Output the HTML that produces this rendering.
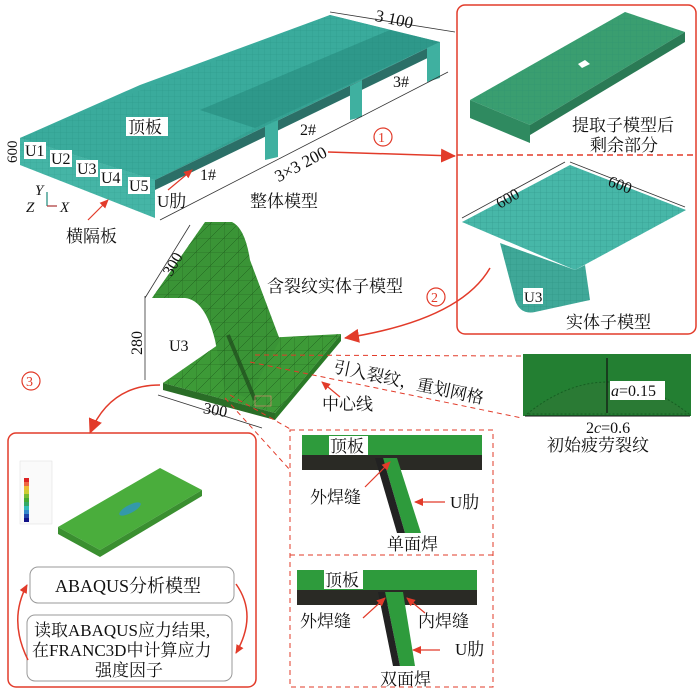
<!DOCTYPE html>
<html><head><meta charset="utf-8"><style>
html,body{margin:0;padding:0;background:#fff;}
svg{display:block;}
text{font-family:"Liberation Serif","Noto Serif CJK SC",serif;fill:#111;}
</style></head><body>
<svg width="700" height="691" viewBox="0 0 700 691" xmlns="http://www.w3.org/2000/svg">
<defs>
<marker id="ar" markerWidth="10" markerHeight="10" refX="8" refY="5" orient="auto" markerUnits="userSpaceOnUse"><path d="M0,1 L9,5 L0,9 z" fill="#e23b2a"/></marker>
<marker id="ar2" markerWidth="16" markerHeight="14" refX="14" refY="7" orient="auto" markerUnits="userSpaceOnUse"><path d="M0,0 L15,7 L0,14 z" fill="#e23b2a"/></marker>
<pattern id="mesh" width="6" height="6" patternUnits="userSpaceOnUse"><path d="M0,0 L6,0 M0,0 L0,6" stroke="#1e7f73" stroke-width="0.5"/></pattern>
<pattern id="gm" width="14" height="14" patternUnits="userSpaceOnUse"><path d="M0,0 L14,0 L0,14 M0,0 L0,14" stroke="#1f5e1c" stroke-width="0.5" fill="none"/></pattern>
</defs>

<!-- Main deck -->
<polygon points="20,138 155,180 155,218 20,165" fill="#45b5a6"/>
<polygon points="20,138 330,15 440,42 155,180" fill="#35a394"/>
<polygon points="140,85 330,15 390,30 200,110 255,128 155,180 20,138" fill="#3aab9c"/>
<polygon points="200,110 390,30 440,42 255,128" fill="#2d9587" opacity="0.8"/>
<polygon points="20,138 330,15 440,42 155,180" fill="url(#mesh)" opacity="0.5"/>
<polygon points="155,180 440,42 440,52 155,190" fill="#2b6f67"/>
<polygon points="265,126 278,120 278,157 265,160" fill="#3fb0a0"/>
<polygon points="350,86 362,80 362,117 350,120" fill="#3fb0a0"/>
<polygon points="427,48 440,42 440,78 427,82" fill="#3fb0a0"/>
<polygon points="20,138 155,180 155,218 20,165" fill="url(#mesh)" opacity="0.4"/>
<line x1="330" y1="12" x2="455" y2="32" stroke="#333" stroke-width="0.8"/>
<text x="375" y="25" font-size="17" transform="rotate(12 395 20)">3 100</text>
<line x1="160" y1="220" x2="448" y2="72" stroke="#333" stroke-width="0.8"/>
<text x="270" y="172" font-size="17" transform="rotate(-28 295 160)">3×3 200</text>
<text x="200" y="180" font-size="16">1#</text>
<text x="300" y="135" font-size="16">2#</text>
<text x="393" y="87" font-size="16">3#</text>
<text x="17" y="163" font-size="15" transform="rotate(-90 17 163)">600</text>
<g font-size="16">
<rect x="24" y="142" width="22" height="17" fill="#fff"/><text x="25" y="156">U1</text>
<rect x="50" y="150" width="22" height="17" fill="#fff"/><text x="51" y="164">U2</text>
<rect x="76" y="160" width="22" height="17" fill="#fff"/><text x="77" y="174">U3</text>
<rect x="100" y="169" width="22" height="17" fill="#fff"/><text x="101" y="183">U4</text>
<rect x="128" y="177" width="22" height="17" fill="#fff"/><text x="129" y="191">U5</text>
<rect x="126" y="117" width="42" height="19" fill="#fff"/><text x="128" y="133" font-size="17">顶板</text>
<text x="157" y="207" font-size="17">U肋</text>
<text x="250" y="207" font-size="17">整体模型</text>
<text x="66" y="242" font-size="17">横隔板</text>
<text x="35" y="195" font-style="italic" font-size="15">Y</text>
<text x="26" y="212" font-style="italic" font-size="15">Z</text>
<text x="60" y="212" font-style="italic" font-size="15">X</text>
</g>
<line x1="47" y1="206" x2="47" y2="192" stroke="#1a8a7c" stroke-width="1.2"/>
<line x1="47" y1="206" x2="57" y2="206" stroke="#a33" stroke-width="1.2"/>
<line x1="88" y1="220" x2="108" y2="200" stroke="#e23b2a" stroke-width="1.2" marker-end="url(#ar)"/>
<line x1="168" y1="190" x2="192" y2="170" stroke="#e23b2a" stroke-width="1.2" marker-end="url(#ar)"/>

<line x1="328" y1="152" x2="455" y2="156" stroke="#e23b2a" stroke-width="1.5" marker-end="url(#ar2)"/>
<circle cx="383" cy="137" r="9" fill="none" stroke="#e23b2a" stroke-width="1.2"/>
<text x="378" y="142" font-size="14" style="fill:#e23b2a">1</text>

<!-- top right box -->
<rect x="457" y="5" width="239" height="329" rx="8" fill="none" stroke="#e23b2a" stroke-width="1.5"/>
<line x1="457" y1="155" x2="696" y2="155" stroke="#e23b2a" stroke-width="1.5" stroke-dasharray="6,4"/>
<polygon points="470,100 625,12 685,32 530,125" fill="#3a9e70"/>
<polygon points="470,100 530,125 530,143 470,118" fill="#2f8a60"/>
<polygon points="530,125 685,32 685,42 530,135" fill="#2a7a55"/>
<polygon points="470,100 625,12 685,32 530,125" fill="url(#mesh)" opacity="0.4"/>
<polygon points="578,64 585,60 590,64 582,68" fill="#fff"/>
<text x="572" y="131" font-size="17">提取子模型后</text>
<text x="590" y="151" font-size="17">剩余部分</text>
<path d="M500,243 L515,300 Q520,315 535,312 L590,300 L585,265 L575,270 z" fill="#3fa898"/>
<path d="M500,243 L515,300 Q520,315 535,312 L590,300 L585,265 L575,270 z" fill="url(#mesh)" opacity="0.6"/>
<polygon points="462,222 570,165 686,210 575,270" fill="#47b7a8"/>
<polygon points="462,222 570,165 686,210 575,270" fill="url(#mesh)" opacity="0.6"/>
<line x1="462" y1="218" x2="565" y2="162" stroke="#333" stroke-width="0.8"/>
<line x1="570" y1="162" x2="685" y2="207" stroke="#333" stroke-width="0.8"/>
<text x="495" y="205" font-size="16" transform="rotate(-30 505 198)">600</text>
<text x="608" y="190" font-size="16" transform="rotate(20 620 185)">600</text>
<rect x="523" y="288" width="20" height="16" fill="#fff"/><text x="524" y="302" font-size="15">U3</text>
<text x="566" y="328" font-size="17">实体子模型</text>

<path d="M490,268 Q460,320 345,338" fill="none" stroke="#e23b2a" stroke-width="1.5" marker-end="url(#ar2)"/>
<circle cx="436" cy="297" r="9" fill="none" stroke="#e23b2a" stroke-width="1.2"/>
<text x="431" y="302" font-size="14" style="fill:#e23b2a">2</text>

<!-- green submodel -->
<polygon points="163,383 225,340 341,334 275,413 " fill="#3d9a37"/>
<polygon points="163,383 275,413 275,420 163,390" fill="#2a6d27"/>
<polygon points="275,413 341,334 341,341 275,420" fill="#2a7a27"/>
<path d="M152,298 L205,222 L232,222 Q245,228 250,260 L280,340 L248,398 L225,390 L215,340 Q205,300 185,298 z" fill="#3a9436"/>
<path d="M152,298 L205,222 L232,222 Q245,228 250,260 L280,340 L248,398 L225,390 L215,340 Q205,300 185,298 z" fill="url(#gm)"/>
<polygon points="163,383 225,340 341,334 275,413" fill="url(#gm)"/>
<line x1="228" y1="335" x2="255" y2="400" stroke="#1e4a1c" stroke-width="4" opacity="0.7"/>
<line x1="145" y1="298" x2="190" y2="225" stroke="#333" stroke-width="0.8"/>
<line x1="145" y1="296" x2="145" y2="380" stroke="#333" stroke-width="0.8"/>
<line x1="158" y1="395" x2="262" y2="428" stroke="#333" stroke-width="0.8"/>
<text x="155" y="275" font-size="16" transform="rotate(-60 165 262)">300</text>
<text x="142" y="355" font-size="16" transform="rotate(-90 142 355)">280</text>
<rect x="168" y="336" width="22" height="18" fill="#fff"/><text x="169" y="351" font-size="16">U3</text>
<text x="203" y="416" font-size="16" transform="rotate(10 220 412)">300</text>
<text x="267" y="292" font-size="17">含裂纹实体子模型</text>
<text x="333" y="382" font-size="17" transform="rotate(12 380 375)">引入裂纹，重划网格</text>
<text x="322" y="410" font-size="17">中心线</text>
<line x1="340" y1="397" x2="322" y2="382" stroke="#e23b2a" stroke-width="1.2" marker-end="url(#ar)"/>
<g stroke="#e23b2a" stroke-width="1" stroke-dasharray="5,4" fill="none">
<line x1="255" y1="355" x2="522" y2="356"/>
<line x1="250" y1="362" x2="522" y2="418"/>
<line x1="230" y1="395" x2="292" y2="430"/>
<line x1="225" y1="398" x2="290" y2="470"/>
<rect x="290" y="430" width="203" height="257"/>
<line x1="290" y1="555" x2="493" y2="555"/>
</g>
<rect x="255" y="396" width="16" height="10" fill="none" stroke="#e87" stroke-width="0.6"/>

<!-- crack image -->
<rect x="523" y="354" width="168" height="62" fill="#237f32"/>
<path d="M527,414 Q607,350 689,414 z" fill="#2a7a34" stroke="#165e22" stroke-width="1" stroke-dasharray="2,2"/>
<line x1="607" y1="358" x2="607" y2="413" stroke="#111" stroke-width="1.2"/>
<line x1="525" y1="416" x2="690" y2="416" stroke="#111" stroke-width="1"/>
<rect x="610" y="381" width="55" height="19" fill="#fff"/>
<text x="611" y="396" font-size="16"><tspan font-style="italic">a</tspan>=0.15</text>
<text x="586" y="433" font-size="16">2<tspan font-style="italic">c</tspan>=0.6</text>
<text x="547" y="451" font-size="17">初始疲劳裂纹</text>

<!-- weld details -->
<rect x="302" y="435" width="180" height="20" fill="#2e9b3c"/>
<rect x="302" y="455" width="180" height="15" fill="#2a2a25"/>
<polygon points="383,458 397,458 421,533 405,533" fill="#2e9b3c"/>
<polygon points="375,458 383,458 405,533 397,533" fill="#222"/>
<rect x="329" y="436" width="39" height="19" fill="#fff"/><text x="330" y="452" font-size="17">顶板</text>
<text x="310" y="503" font-size="17">外焊缝</text>
<line x1="365" y1="487" x2="390" y2="462" stroke="#e23b2a" stroke-width="1.2" marker-end="url(#ar)"/>
<text x="450" y="508" font-size="17">U肋</text>
<line x1="445" y1="502" x2="415" y2="502" stroke="#e23b2a" stroke-width="1.2" marker-end="url(#ar)"/>
<text x="387" y="550" font-size="17">单面焊</text>

<rect x="297" y="570" width="180" height="20" fill="#2e9b3c"/>
<rect x="297" y="590" width="180" height="15" fill="#2a2a25"/>
<polygon points="385,592 403,592 415,666 400,666" fill="#2e9b3c"/>
<polygon points="378,592 385,592 400,666 393,666" fill="#222"/>
<rect x="324" y="570" width="39" height="19" fill="#fff"/><text x="325" y="586" font-size="17">顶板</text>
<text x="300" y="627" font-size="17">外焊缝</text>
<line x1="363" y1="618" x2="385" y2="598" stroke="#e23b2a" stroke-width="1.2" marker-end="url(#ar)"/>
<text x="418" y="627" font-size="17">内焊缝</text>
<line x1="425" y1="613" x2="407" y2="598" stroke="#e23b2a" stroke-width="1.2" marker-end="url(#ar)"/>
<text x="455" y="655" font-size="17">U肋</text>
<line x1="440" y1="650" x2="413" y2="650" stroke="#e23b2a" stroke-width="1.2" marker-end="url(#ar)"/>
<text x="380" y="685" font-size="17">双面焊</text>

<path d="M160,385 Q110,385 90,433" fill="none" stroke="#e23b2a" stroke-width="1.5" marker-end="url(#ar2)"/>
<circle cx="31" cy="381" r="9" fill="none" stroke="#e23b2a" stroke-width="1.2"/>
<text x="26" y="386" font-size="14" style="fill:#e23b2a">3</text>

<!-- bottom-left box -->
<rect x="8" y="433" width="248" height="254" rx="8" fill="none" stroke="#e23b2a" stroke-width="1.5"/>
<rect x="20" y="461" width="32" height="63" fill="#fafafa" stroke="#ddd" stroke-width="0.5"/>
<g>
<rect x="24" y="478" width="5" height="4" fill="#d22"/><rect x="24" y="482" width="5" height="4" fill="#e64"/>
<rect x="24" y="486" width="5" height="4" fill="#eb3"/><rect x="24" y="490" width="5" height="4" fill="#cc3"/>
<rect x="24" y="494" width="5" height="4" fill="#7b3"/><rect x="24" y="498" width="5" height="4" fill="#4a3"/>
<rect x="24" y="502" width="5" height="4" fill="#3a6"/><rect x="24" y="506" width="5" height="4" fill="#3bb"/>
<rect x="24" y="510" width="5" height="4" fill="#38c"/><rect x="24" y="514" width="5" height="4" fill="#24a"/>
<rect x="24" y="518" width="5" height="4" fill="#118"/>
</g>
<polygon points="58,527 160,468 202,490 100,550" fill="#4aad3c"/>
<polygon points="58,527 100,550 100,557 58,534" fill="#3a8f30"/>
<polygon points="100,550 202,490 202,496 100,557" fill="#3a8f30"/>
<ellipse cx="130" cy="509" rx="12" ry="4" fill="#39a" transform="rotate(-28 130 509)"/>
<rect x="30" y="567" width="204" height="36" rx="8" fill="#fff" stroke="#999" stroke-width="1"/>
<text x="55" y="592" font-size="18">ABAQUS分析模型</text>
<rect x="27" y="615" width="205" height="66" rx="8" fill="#fff" stroke="#999" stroke-width="1"/>
<text x="34" y="636" font-size="17">读取ABAQUS应力结果,</text>
<text x="32" y="656" font-size="17">在FRANC3D中计算应力</text>
<text x="95" y="676" font-size="17">强度因子</text>
<path d="M28,660 Q8,620 27,585" fill="none" stroke="#e23b2a" stroke-width="1.5" marker-end="url(#ar)"/>
<path d="M236,584 Q258,615 236,653" fill="none" stroke="#e23b2a" stroke-width="1.5" marker-end="url(#ar)"/>
</svg>
</body></html>
